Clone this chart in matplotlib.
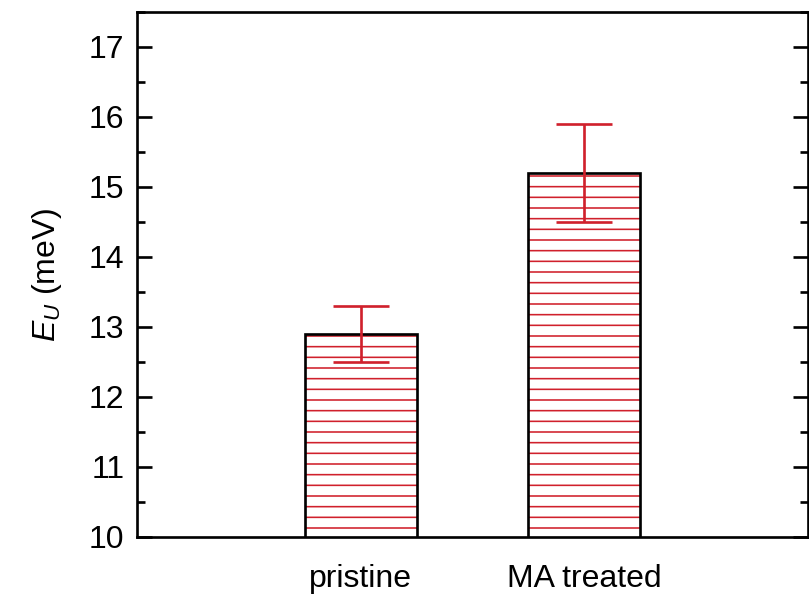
import matplotlib
matplotlib.use("Agg")
import matplotlib.pyplot as plt
from matplotlib.ticker import MultipleLocator

# data
categories = ["pristine", "MA treated"]
values = [12.9, 15.2]
err_low = [0.4, 0.7]
err_high = [0.4, 0.7]

DPI = 64
plt.rcParams["font.family"] = ["Liberation Sans", "DejaVu Sans"]
plt.rcParams["mathtext.fontset"] = "custom"
plt.rcParams["mathtext.it"] = "Liberation Sans:italic"
plt.rcParams["mathtext.rm"] = "Liberation Sans"
plt.rcParams["hatch.linewidth"] = 1.8

fig = plt.figure(figsize=(809 / DPI, 599 / DPI), dpi=DPI)
ax = fig.add_axes([137 / 809, 62 / 599, 671 / 809, 525 / 599])

x = [1, 2]
red = "#d0202c"
# hatch layer (red lines), then black outline on top
ax.bar(x, values, width=0.5, bottom=0, color="white", edgecolor=red,
       hatch="-", linewidth=0, zorder=2)
ax.bar(x, values, width=0.5, bottom=0, fill=False, edgecolor="black",
       linewidth=3.0, zorder=3)
ax.errorbar(x, values, yerr=[err_low, err_high], fmt="none", ecolor=red,
            elinewidth=3.0, capsize=31, capthick=3.0, zorder=4)

ax.set_xlim(0, 3)
ax.set_ylim(10, 17.5)
ax.set_xticks(x)
ax.set_xticklabels(categories)
ax.yaxis.set_major_locator(MultipleLocator(1))
ax.yaxis.set_minor_locator(MultipleLocator(0.5))
ax.tick_params(axis="y", which="both", direction="in", right=True,
               labelsize=36, width=3.0)
ax.tick_params(axis="y", which="major", length=17, pad=14)
ax.tick_params(axis="y", which="minor", length=9)
ax.tick_params(axis="x", length=0, labelsize=36, pad=30)
for s in ax.spines.values():
    s.set_linewidth(3.0)

ax.set_ylabel("$E_U$ (meV)", fontsize=36, labelpad=28)

fig.savefig("out.png", dpi=DPI)
